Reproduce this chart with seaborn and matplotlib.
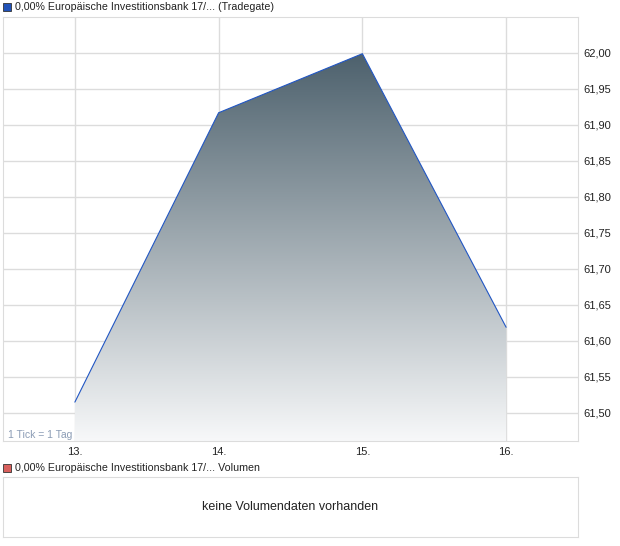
import matplotlib
matplotlib.use("Agg")
import matplotlib.pyplot as plt
import matplotlib.patches as mpatches
from matplotlib.colors import LinearSegmentedColormap
import numpy as np
import pandas as pd
import seaborn as sns

days = [13, 14, 15, 16]
prices = [61.515, 61.917, 61.999, 61.619]
day_labels = ["13.", "14.", "15.", "16."]
price_ticks = [61.50, 61.55, 61.60, 61.65, 61.70, 61.75, 61.80, 61.85, 61.90, 61.95, 62.00]
title_main = "0,00% Europäische Investitionsbank 17/... (Tradegate)"
title_vol = "0,00% Europäische Investitionsbank 17/... Volumen"

df = pd.DataFrame({"day": days, "price": prices})

sns.set_style("white")
plt.rcParams["font.family"] = ["Liberation Sans", "DejaVu Sans"]

W, H = 620, 546
fig = plt.figure(figsize=(W / 100, H / 100), dpi=100)

def box(x0, y0, x1, y1):
    # pixel coords (top-left origin) -> figure fraction rect
    return [x0 / W, 1 - y1 / H, (x1 - x0) / W, (y1 - y0) / H]

grid_col = "#dcdcdc"

ax = fig.add_axes(box(3, 17, 578, 441))
ax.set_xlim(12.5, 16.5)
ax.set_ylim(61.461, 62.05)

# gradient fill under the line
grad = LinearSegmentedColormap.from_list("g", ["#f7f8f9", "#4d616d"])
img = ax.imshow(np.linspace(0, 1, 256).reshape(-1, 1), cmap=grad, aspect="auto",
                origin="lower", extent=[days[0], days[-1], 61.461, max(prices)],
                zorder=2)
poly = ax.fill_between(df["day"], df["price"], 61.461, color="none", zorder=1)
img.set_clip_path(poly.get_paths()[0], transform=ax.transData)

sns.lineplot(data=df, x="day", y="price", ax=ax, color="#2156c4", linewidth=0.8, zorder=3)

ax.set_xticks(days)
ax.set_xticklabels(day_labels)
ax.set_yticks(price_ticks)
ax.set_yticklabels([f"{v:.2f}".replace(".", ",") for v in price_ticks])
ax.yaxis.tick_right()
ax.tick_params(axis="both", length=0, labelsize=8, colors="#222222", pad=4)
ax.set_xlabel("")
ax.set_ylabel("")
ax.grid(True, color=grid_col, linewidth=1)
ax.set_axisbelow(True)
for s in ax.spines.values():
    s.set_color(grid_col)
ax.text(0.008, 0.002, "1 Tick = 1 Tag", transform=ax.transAxes, fontsize=7.5,
        color="#8b9cb5", va="bottom", ha="left", zorder=1.5)

# headers with colour squares
fig.patches.append(mpatches.Rectangle((3 / W, 1 - 11 / H), 8 / W, 8 / H,
                                      transform=fig.transFigure, facecolor="#2152b8",
                                      edgecolor="#333333", linewidth=0.6))
fig.text(15 / W, 1 - 7 / H, title_main, fontsize=7.7, va="center", ha="left", color="#222222")
fig.patches.append(mpatches.Rectangle((3 / W, 1 - 472 / H), 8 / W, 8 / H,
                                      transform=fig.transFigure, facecolor="#d9605d",
                                      edgecolor="#333333", linewidth=0.6))
fig.text(15 / W, 1 - 468 / H, title_vol, fontsize=7.7, va="center", ha="left", color="#222222")

# empty volume panel
ax2 = fig.add_axes(box(3, 477, 578, 537))
ax2.set_xticks([])
ax2.set_yticks([])
for s in ax2.spines.values():
    s.set_color(grid_col)
ax2.text(0.5, 0.5, "keine Volumendaten vorhanden", transform=ax2.transAxes,
         ha="center", va="center", fontsize=9, color="#222222")

fig.savefig("out.png", dpi=100)
